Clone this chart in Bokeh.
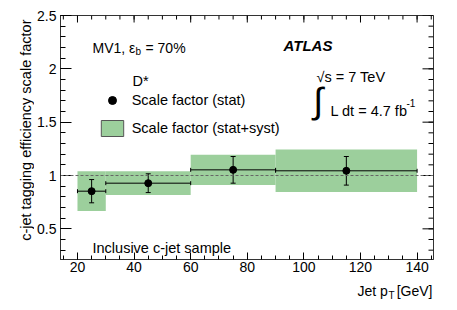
import math
from bokeh.plotting import figure
from bokeh.layouts import row, column
from bokeh.models import (Range1d, SingleIntervalTicker, NumeralTickFormatter,
                          Label, Span, ColumnDataSource, Legend, LegendItem)
from bokeh.embed import file_html
from bokeh.resources import INLINE

# ---------------- data ----------------
bin_lo = [20, 30, 60, 90]
bin_hi = [30, 60, 90, 140]
bin_center = [25, 45, 75, 115]
scale_factor = [0.853, 0.928, 1.053, 1.044]
stat_err = [0.109, 0.088, 0.125, 0.134]
total_err = [0.186, 0.111, 0.141, 0.199]

x_major_ticks = [20, 40, 60, 80, 100, 120, 140]
x_minor_ticks = list(range(15, 146, 5))
y_major_ticks = [0.5, 1.0, 1.5, 2.0, 2.5]
y_minor_ticks = [round(0.3 + 0.1 * i, 1) for i in range(23)]

# ---------------- geometry (page pixels) ----------------
XMIN, XMAX = 14.0, 145.8
YMIN, YMAX = 0.2125, 2.5
W, H = 457, 310
FL, FR, FT, FB = 60, 433, 15, 259   # frame edges in page pixels
LEFT_W = 34          # strip holding the y title
MAIN_H = FB + 18     # main figure ends just under the tick labels
BOTTOM_H = H - MAIN_H
PX_PER_X = (FR - FL) / (XMAX - XMIN)
PX_PER_Y = (FB - FT) / (YMAX - YMIN)

GREEN = "#9ccf9c"
FONT = "Liberation Sans"
FS = "14px"


def dx(px):
    return XMIN + (px - FL) / PX_PER_X


def dy(py):
    return YMAX - (py - FT) / PX_PER_Y


MAIN_W = W - LEFT_W

p = figure(width=MAIN_W, height=MAIN_H, output_backend="svg", toolbar_location=None,
           x_range=Range1d(XMIN, XMAX), y_range=Range1d(YMIN, YMAX),
           min_border_left=FL - LEFT_W, min_border_right=W - FR,
           min_border_top=FT, min_border_bottom=MAIN_H - FB)
p.xgrid.visible = False
p.ygrid.visible = False
p.outline_line_color = "#333333"
p.background_fill_color = "white"
p.border_fill_color = "white"


def style_axis(ax, major_in, minor_in, standoff):
    ax.major_tick_in = major_in
    ax.major_tick_out = 0
    ax.minor_tick_in = minor_in
    ax.minor_tick_out = 0
    ax.axis_line_color = "#333333"
    ax.major_tick_line_color = "black"
    ax.minor_tick_line_color = "black"
    ax.axis_label = None
    ax.major_label_text_font = FONT
    ax.major_label_text_font_size = FS
    ax.major_label_text_color = "black"
    ax.major_label_standoff = standoff


p.xaxis[0].ticker = SingleIntervalTicker(interval=20, num_minor_ticks=4)
p.yaxis[0].ticker = SingleIntervalTicker(interval=0.5, num_minor_ticks=5)
p.yaxis[0].formatter = NumeralTickFormatter(format="0.[0]")
style_axis(p.xaxis[0], 7, 4, 2)
style_axis(p.yaxis[0], 11, 5, 4)

# mirrored tick marks on the top and right frame edges
p.segment(x0=x_minor_ticks, x1=x_minor_ticks, y0=[YMAX] * len(x_minor_ticks),
          y1=[YMAX - 4 / PX_PER_Y] * len(x_minor_ticks), line_color="black", line_width=1)
p.segment(x0=x_major_ticks, x1=x_major_ticks, y0=[YMAX] * len(x_major_ticks),
          y1=[YMAX - 7 / PX_PER_Y] * len(x_major_ticks), line_color="black", line_width=1)
p.segment(x0=[XMAX] * len(y_minor_ticks), x1=[XMAX - 5 / PX_PER_X] * len(y_minor_ticks),
          y0=y_minor_ticks, y1=y_minor_ticks, line_color="black", line_width=1)
p.segment(x0=[XMAX] * len(y_major_ticks), x1=[XMAX - 11 / PX_PER_X] * len(y_major_ticks),
          y0=y_major_ticks, y1=y_major_ticks, line_color="black", line_width=1)

# ---------------- marks ----------------
src = ColumnDataSource(dict(
    lo=bin_lo, hi=bin_hi, x=bin_center, y=scale_factor,
    band_lo=[v - e for v, e in zip(scale_factor, total_err)],
    band_hi=[v + e for v, e in zip(scale_factor, total_err)],
    stat_lo=[v - e for v, e in zip(scale_factor, stat_err)],
    stat_hi=[v + e for v, e in zip(scale_factor, stat_err)],
))

p.quad(left="lo", right="hi", bottom="band_lo", top="band_hi", source=src,
       fill_color=GREEN, line_color=None)

p.add_layout(Span(location=1.0, dimension="width", line_color="#666666",
                  line_dash="3 2", line_width=1))

p.segment(x0="lo", x1="hi", y0="y", y1="y", source=src, line_color="black", line_width=1)
p.segment(x0="x", x1="x", y0="stat_lo", y1="stat_hi", source=src, line_color="black", line_width=1)
p.scatter("x", "stat_lo", source=src, marker="dash", size=5, line_color="black", line_width=1)
p.scatter("x", "stat_hi", source=src, marker="dash", size=5, line_color="black", line_width=1)
p.scatter("lo", "y", source=src, marker="dash", size=4, angle=math.pi / 2, line_color="black", line_width=1)
p.scatter("hi", "y", source=src, marker="dash", size=4, angle=math.pi / 2, line_color="black", line_width=1)
pts = p.scatter("x", "y", source=src, size=7, marker="circle", color="black")

nan = float("nan")
box_leg = p.quad(left=[nan], right=[nan], bottom=[nan], top=[nan], fill_color=GREEN, line_color="#555555")

legend = Legend(items=[LegendItem(label="Scale factor (stat)", renderers=[pts]),
                       LegendItem(label="Scale factor (stat+syst)", renderers=[box_leg])],
                location=(37.7, 120.7), orientation="vertical",
                glyph_width=28, glyph_height=20, label_standoff=6, spacing=8,
                padding=0, margin=0, border_line_color=None, background_fill_alpha=0,
                label_text_font=FONT, label_text_font_size="14.5px", label_text_color="black",
                label_height=20)
p.add_layout(legend)


def add_text(fig, x, y, text, size=FS, style="normal", align="left", angle=0.0):
    fig.add_layout(Label(x=x, y=y, text=text, text_font=FONT, text_font_size=size,
                         text_font_style=style, text_align=align, text_baseline="alphabetic",
                         text_color="black", angle=angle))


add_text(p, dx(92), dy(47), "MV1, ε")
add_text(p, dx(135), dy(51), "b", size="10px")
add_text(p, dx(145), dy(47), "= 70%")
add_text(p, dx(283), dy(45), "ATLAS", size="15px", style="bold italic")
add_text(p, dx(132), dy(80), "D*", size="14.5px")
add_text(p, dx(316), dy(76), "√s = 7 TeV", size="14.5px")
add_text(p, dx(313), dy(100), "∫", size="36px")
add_text(p, dx(330), dy(110), "L dt = 4.7 fb", size="14.5px")
add_text(p, dx(406), dy(102), "-1", size="10px")
add_text(p, dx(92), dy(247), "Inclusive c-jet sample", size="14.5px")


def strip(width, height, borders, x_rng, y_rng):
    f = figure(width=width, height=height, output_backend="svg", toolbar_location=None,
               x_range=Range1d(*x_rng), y_range=Range1d(*y_rng),
               x_axis_location=None, y_axis_location=None,
               min_border_left=borders[0], min_border_right=borders[1],
               min_border_top=borders[2], min_border_bottom=borders[3])
    f.xgrid.visible = False
    f.ygrid.visible = False
    f.outline_line_color = None
    f.background_fill_color = "white"
    f.border_fill_color = "white"
    return f


# y title strip: frame spans page x 0..LEFT_W and page y FT..FB (page pixel coordinates)
left_fig = strip(LEFT_W, H, (0, 0, FT, H - FB), (0, LEFT_W), (FB, FT))
add_text(left_fig, 25, 19, "c-jet tagging efficiency scale factor", size="14.5px",
         align="right", angle=math.pi / 2)

# x title strip: frame spans page x FL..FR and page y MAIN_H..H
bottom_fig = strip(MAIN_W, BOTTOM_H, (FL - LEFT_W, W - FR, 0, 0), (FL, FR), (H, MAIN_H))
add_text(bottom_fig, 357, 290, "Jet p")
add_text(bottom_fig, 388, 295, "T", size="10px")
add_text(bottom_fig, 432, 290, "[GeV]", align="right")

layout = row(left_fig, column(p, bottom_fig, spacing=0), spacing=0)

open("out.html", "w").write(file_html(layout, INLINE))
